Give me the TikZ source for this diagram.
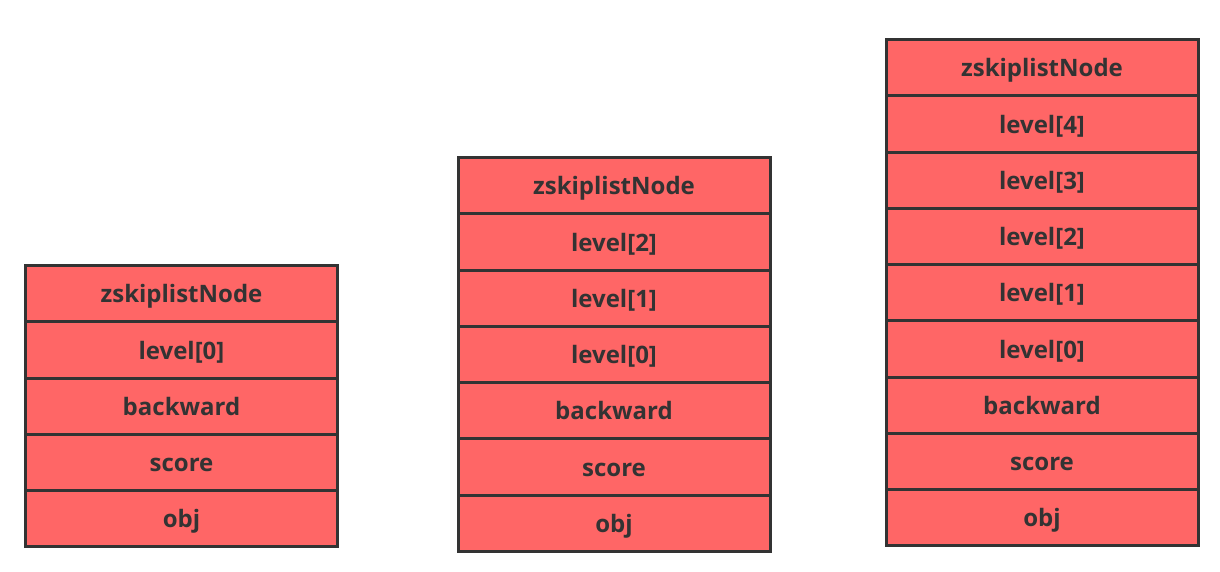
\documentclass[tikz,border=0pt]{standalone}
\usepackage{fontspec}
\setmainfont{Open Sans}
\usetikzlibrary{positioning}
\definecolor{cellred}{HTML}{FF6666}
\definecolor{edgegray}{HTML}{333333}

\begin{document}
\begin{tikzpicture}[x=1pt, y=-1pt,
      cell/.style={draw=edgegray, line width=3pt, fill=cellred,
                   minimum width=312pt, minimum height=56.25pt, inner sep=0pt,
                   text height=20pt, text depth=2pt,
                   font=\bfseries\fontsize{24}{26}\selectfont, text=edgegray}]

    \useasboundingbox (0,0) rectangle (1220,571);

    % node with one level
    \foreach \t [count=\i from 0] in {zskiplistNode, level[0], backward, score, obj}
      \node[cell] (a\i) at (181.5, 293.8+56.25*\i) {\t};

    % node with three levels
    \foreach \t [count=\i from 0] in {zskiplistNode, level[2], level[1], level[0],
                                      backward, score, obj}
      \node[cell] (b\i) at (614, 185.8+56.25*\i) {\t};

    % node with five levels
    \foreach \t [count=\i from 0] in {zskiplistNode, level[4], level[3], level[2],
                                      level[1], level[0], backward, score, obj}
      \node[cell] (c\i) at (1042, 67.8+56.25*\i) {\t};
  \end{tikzpicture}
\end{document}
